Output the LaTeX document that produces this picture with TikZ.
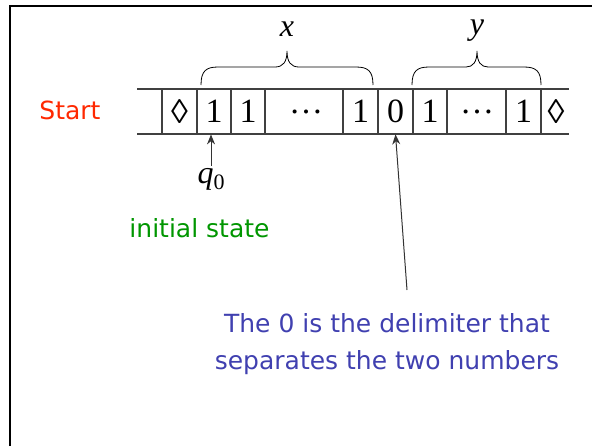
\documentclass[tikz,border=0pt]{standalone}
\usepackage{fontspec}
\setmainfont{Liberation Serif}
\newfontfamily\notefont{DejaVu Sans}
\usetikzlibrary{arrows.meta}
\definecolor{startred}{RGB}{255,40,0}
\definecolor{stategreen}{RGB}{0,150,0}
\definecolor{noteblue}{RGB}{64,64,176}
\newcommand{\blank}{◊}
\newcommand{\tdots}{\vphantom{1}\raisebox{0.28em}{…}}

\begin{document}
\begin{tikzpicture}[x=0.5pt,y=-0.5pt,
    cell/.style={inner sep=0pt,minimum height=22.5pt,font=\fontsize{17}{20}\selectfont},
    var/.style={inner sep=1pt,font=\fontsize{16}{19}\selectfont},
    note/.style={font=\notefont\fontsize{12.5}{18.5}\selectfont,align=center},
    tape/.style={black!75,line width=0.6pt},
    arr/.style={-{Stealth[length=5pt,width=4pt]},black!80,line width=0.5pt}]
  \useasboundingbox (0,0) rectangle (592,446);
  \draw[line width=1.2pt] (10,446) -- (10,6) -- (592,6);
  % tape
  \draw[tape] (137,89) -- (569,89);
  \draw[tape] (137,134) -- (569,134);
  \foreach \x in {162,197,231,265,343,378,413,447,506,541}
    \draw[tape] (\x,89) -- (\x,134);
  \node[cell] (b0) at (179.5,111.5) {\blank};
  \node[cell] (c1) at (214,111.5) {1};
  \node[cell] (c2) at (248,111.5) {1};
  \node[cell] (d1) at (306,111.5) {\tdots};
  \node[cell] (c3) at (360.5,111.5) {1};
  \node[cell] (c0) at (395.5,111.5) {0};
  \node[cell] (c4) at (430,111.5) {1};
  \node[cell] (d2) at (477,111.5) {\tdots};
  \node[cell] (c5) at (523.5,111.5) {1};
  \node[cell] (b1) at (556,111.5) {\blank};
  % braces
  \draw (201,85) .. controls (201,71) and (206,67) .. (218,67) -- (275,67)
    .. controls (283,67) and (287,62) .. (287,51)
    .. controls (287,62) and (291,67) .. (299,67) -- (356,67)
    .. controls (368,67) and (373,71) .. (373,85);
  \draw (412,85) .. controls (412,71) and (417,67) .. (429,67) -- (466,67)
    .. controls (473,67) and (477,62) .. (477,51)
    .. controls (477,62) and (481,67) .. (488,67) -- (524,67)
    .. controls (536,67) and (541,71) .. (541,85);
  \node[var] (x) at (287,29) {\textit{x}};
  \node[var] (y) at (477,31) {\textit{y}};
  % head
  \node[var] (q0) at (211,179) {\textit{q}\raisebox{-3pt}{\fontsize{11}{12}\selectfont 0}};
  \draw[arr] (q0.north) -- (q0.north |- c1.south);
  \node[note,text=startred] (start) at (70,110) {Start};
  \node[note,text=stategreen] (init) at (199.5,228) {initial state};
  % delimiter note
  \node[note,text=noteblue] (note) at (387,344) {The 0 is the delimiter that\\separates the two numbers};
  \coordinate (tail) at (407,290);
  \draw[arr] (tail) -- (c0.south);
\end{tikzpicture}
\end{document}
